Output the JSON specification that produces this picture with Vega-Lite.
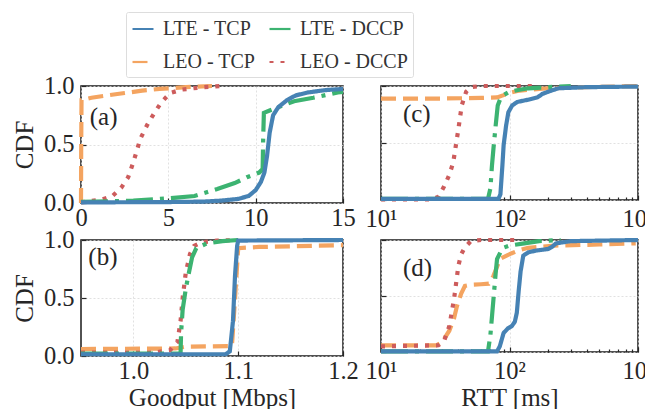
{
  "$schema": "https://vega.github.io/schema/vega-lite/v6.json",
  "padding": {"left": 11, "top": 11, "right": 0, "bottom": 0},
  "bounds": "flush",
  "columns": 2,
  "spacing": {"row": 37, "column": 38},
  "datasets": {
    "curves": [
      {"p":"a","s":"LEO - TCP","x":0,"y":0},{"p":"a","s":"LEO - TCP","x":0.01,"y":0.45},{"p":"a","s":"LEO - TCP","x":0.03,"y":0.88},{"p":"a","s":"LEO - TCP","x":0.6,"y":0.9},{"p":"a","s":"LEO - TCP","x":1.5,"y":0.92},{"p":"a","s":"LEO - TCP","x":2.5,"y":0.94},{"p":"a","s":"LEO - TCP","x":3.5,"y":0.96},{"p":"a","s":"LEO - TCP","x":4.5,"y":0.975},{"p":"a","s":"LEO - TCP","x":6,"y":0.99},{"p":"a","s":"LEO - TCP","x":7.5,"y":1.0},
      {"p":"a","s":"LEO - DCCP","x":0,"y":0.005},{"p":"a","s":"LEO - DCCP","x":0.5,"y":0.015},{"p":"a","s":"LEO - DCCP","x":1.2,"y":0.03},{"p":"a","s":"LEO - DCCP","x":1.8,"y":0.06},{"p":"a","s":"LEO - DCCP","x":2.3,"y":0.13},{"p":"a","s":"LEO - DCCP","x":2.7,"y":0.22},{"p":"a","s":"LEO - DCCP","x":3.0,"y":0.35},{"p":"a","s":"LEO - DCCP","x":3.4,"y":0.55},{"p":"a","s":"LEO - DCCP","x":3.8,"y":0.67},{"p":"a","s":"LEO - DCCP","x":4.2,"y":0.77},{"p":"a","s":"LEO - DCCP","x":4.6,"y":0.86},{"p":"a","s":"LEO - DCCP","x":5.1,"y":0.94},{"p":"a","s":"LEO - DCCP","x":5.8,"y":0.97},{"p":"a","s":"LEO - DCCP","x":7.0,"y":0.99},{"p":"a","s":"LEO - DCCP","x":8.0,"y":1.0},
      {"p":"a","s":"LTE - DCCP","x":0,"y":0.01},{"p":"a","s":"LTE - DCCP","x":3,"y":0.02},{"p":"a","s":"LTE - DCCP","x":5,"y":0.04},{"p":"a","s":"LTE - DCCP","x":6.5,"y":0.06},{"p":"a","s":"LTE - DCCP","x":7.8,"y":0.12},{"p":"a","s":"LTE - DCCP","x":8.8,"y":0.17},{"p":"a","s":"LTE - DCCP","x":9.5,"y":0.22},{"p":"a","s":"LTE - DCCP","x":10.2,"y":0.26},{"p":"a","s":"LTE - DCCP","x":10.4,"y":0.29},{"p":"a","s":"LTE - DCCP","x":10.43,"y":0.55},{"p":"a","s":"LTE - DCCP","x":10.47,"y":0.77},{"p":"a","s":"LTE - DCCP","x":10.8,"y":0.79},{"p":"a","s":"LTE - DCCP","x":11.5,"y":0.83},{"p":"a","s":"LTE - DCCP","x":12.2,"y":0.87},{"p":"a","s":"LTE - DCCP","x":13.3,"y":0.9},{"p":"a","s":"LTE - DCCP","x":14.7,"y":0.945},{"p":"a","s":"LTE - DCCP","x":15,"y":0.95},
      {"p":"a","s":"LTE - TCP","x":0,"y":0.005},{"p":"a","s":"LTE - TCP","x":5,"y":0.008},{"p":"a","s":"LTE - TCP","x":7,"y":0.012},{"p":"a","s":"LTE - TCP","x":8,"y":0.02},{"p":"a","s":"LTE - TCP","x":9,"y":0.035},{"p":"a","s":"LTE - TCP","x":9.6,"y":0.06},{"p":"a","s":"LTE - TCP","x":10,"y":0.11},{"p":"a","s":"LTE - TCP","x":10.3,"y":0.18},{"p":"a","s":"LTE - TCP","x":10.5,"y":0.26},{"p":"a","s":"LTE - TCP","x":10.65,"y":0.4},{"p":"a","s":"LTE - TCP","x":10.8,"y":0.6},{"p":"a","s":"LTE - TCP","x":11,"y":0.75},{"p":"a","s":"LTE - TCP","x":11.3,"y":0.82},{"p":"a","s":"LTE - TCP","x":11.8,"y":0.88},{"p":"a","s":"LTE - TCP","x":12.3,"y":0.92},{"p":"a","s":"LTE - TCP","x":13,"y":0.945},{"p":"a","s":"LTE - TCP","x":14,"y":0.965},{"p":"a","s":"LTE - TCP","x":15,"y":0.975},

      {"p":"b","s":"LEO - TCP","x":0.95,"y":0.06},{"p":"b","s":"LEO - TCP","x":1.04,"y":0.065},{"p":"b","s":"LEO - TCP","x":1.05,"y":0.08},{"p":"b","s":"LEO - TCP","x":1.094,"y":0.085},{"p":"b","s":"LEO - TCP","x":1.097,"y":0.5},{"p":"b","s":"LEO - TCP","x":1.1,"y":0.93},{"p":"b","s":"LEO - TCP","x":1.12,"y":0.94},{"p":"b","s":"LEO - TCP","x":1.2,"y":0.955},
      {"p":"b","s":"LEO - DCCP","x":0.95,"y":0.03},{"p":"b","s":"LEO - DCCP","x":1.02,"y":0.03},{"p":"b","s":"LEO - DCCP","x":1.035,"y":0.05},{"p":"b","s":"LEO - DCCP","x":1.042,"y":0.12},{"p":"b","s":"LEO - DCCP","x":1.045,"y":0.3},{"p":"b","s":"LEO - DCCP","x":1.047,"y":0.5},{"p":"b","s":"LEO - DCCP","x":1.05,"y":0.72},{"p":"b","s":"LEO - DCCP","x":1.054,"y":0.88},{"p":"b","s":"LEO - DCCP","x":1.058,"y":0.95},{"p":"b","s":"LEO - DCCP","x":1.065,"y":0.98},{"p":"b","s":"LEO - DCCP","x":1.08,"y":0.995},{"p":"b","s":"LEO - DCCP","x":1.1,"y":1.0},
      {"p":"b","s":"LTE - DCCP","x":0.95,"y":0.02},{"p":"b","s":"LTE - DCCP","x":1.045,"y":0.02},{"p":"b","s":"LTE - DCCP","x":1.0455,"y":0.2},{"p":"b","s":"LTE - DCCP","x":1.047,"y":0.4},{"p":"b","s":"LTE - DCCP","x":1.05,"y":0.58},{"p":"b","s":"LTE - DCCP","x":1.053,"y":0.72},{"p":"b","s":"LTE - DCCP","x":1.056,"y":0.85},{"p":"b","s":"LTE - DCCP","x":1.06,"y":0.93},{"p":"b","s":"LTE - DCCP","x":1.07,"y":0.97},{"p":"b","s":"LTE - DCCP","x":1.085,"y":0.99},{"p":"b","s":"LTE - DCCP","x":1.1,"y":1.0},
      {"p":"b","s":"LTE - TCP","x":0.95,"y":0.015},{"p":"b","s":"LTE - TCP","x":1.088,"y":0.015},{"p":"b","s":"LTE - TCP","x":1.092,"y":0.04},{"p":"b","s":"LTE - TCP","x":1.095,"y":0.3},{"p":"b","s":"LTE - TCP","x":1.097,"y":0.7},{"p":"b","s":"LTE - TCP","x":1.099,"y":0.95},{"p":"b","s":"LTE - TCP","x":1.1,"y":0.995},{"p":"b","s":"LTE - TCP","x":1.2,"y":1.0},

      {"p":"c","s":"LEO - TCP","x":10,"y":0.89},{"p":"c","s":"LEO - TCP","x":30,"y":0.89},{"p":"c","s":"LEO - TCP","x":60,"y":0.895},{"p":"c","s":"LEO - TCP","x":80,"y":0.9},{"p":"c","s":"LEO - TCP","x":90,"y":0.92},{"p":"c","s":"LEO - TCP","x":100,"y":0.94},{"p":"c","s":"LEO - TCP","x":120,"y":0.96},{"p":"c","s":"LEO - TCP","x":150,"y":0.97},{"p":"c","s":"LEO - TCP","x":200,"y":0.98},{"p":"c","s":"LEO - TCP","x":400,"y":0.99},{"p":"c","s":"LEO - TCP","x":1000,"y":1.0},
      {"p":"c","s":"LEO - DCCP","x":10,"y":0.005},{"p":"c","s":"LEO - DCCP","x":25,"y":0.005},{"p":"c","s":"LEO - DCCP","x":28,"y":0.03},{"p":"c","s":"LEO - DCCP","x":31,"y":0.12},{"p":"c","s":"LEO - DCCP","x":34,"y":0.22},{"p":"c","s":"LEO - DCCP","x":36.5,"y":0.33},{"p":"c","s":"LEO - DCCP","x":38.5,"y":0.5},{"p":"c","s":"LEO - DCCP","x":40,"y":0.62},{"p":"c","s":"LEO - DCCP","x":42.5,"y":0.83},{"p":"c","s":"LEO - DCCP","x":46,"y":0.95},{"p":"c","s":"LEO - DCCP","x":50,"y":0.99},{"p":"c","s":"LEO - DCCP","x":60,"y":1.0},{"p":"c","s":"LEO - DCCP","x":150,"y":1.0},
      {"p":"c","s":"LTE - DCCP","x":10,"y":0.01},{"p":"c","s":"LTE - DCCP","x":68,"y":0.01},{"p":"c","s":"LTE - DCCP","x":71,"y":0.1},{"p":"c","s":"LTE - DCCP","x":73,"y":0.3},{"p":"c","s":"LTE - DCCP","x":75,"y":0.45},{"p":"c","s":"LTE - DCCP","x":78,"y":0.65},{"p":"c","s":"LTE - DCCP","x":81,"y":0.83},{"p":"c","s":"LTE - DCCP","x":85,"y":0.89},{"p":"c","s":"LTE - DCCP","x":90,"y":0.92},{"p":"c","s":"LTE - DCCP","x":100,"y":0.95},{"p":"c","s":"LTE - DCCP","x":117,"y":0.965},{"p":"c","s":"LTE - DCCP","x":140,"y":0.98},{"p":"c","s":"LTE - DCCP","x":200,"y":0.99},{"p":"c","s":"LTE - DCCP","x":300,"y":1.0},
      {"p":"c","s":"LTE - TCP","x":10,"y":0.01},{"p":"c","s":"LTE - TCP","x":82,"y":0.01},{"p":"c","s":"LTE - TCP","x":85,"y":0.05},{"p":"c","s":"LTE - TCP","x":88,"y":0.3},{"p":"c","s":"LTE - TCP","x":90,"y":0.48},{"p":"c","s":"LTE - TCP","x":94,"y":0.65},{"p":"c","s":"LTE - TCP","x":98,"y":0.77},{"p":"c","s":"LTE - TCP","x":105,"y":0.83},{"p":"c","s":"LTE - TCP","x":115,"y":0.86},{"p":"c","s":"LTE - TCP","x":140,"y":0.88},{"p":"c","s":"LTE - TCP","x":165,"y":0.9},{"p":"c","s":"LTE - TCP","x":180,"y":0.93},{"p":"c","s":"LTE - TCP","x":200,"y":0.95},{"p":"c","s":"LTE - TCP","x":240,"y":0.98},{"p":"c","s":"LTE - TCP","x":400,"y":0.99},{"p":"c","s":"LTE - TCP","x":1000,"y":0.995},

      {"p":"d","s":"LEO - TCP","x":10,"y":0.06},{"p":"d","s":"LEO - TCP","x":27,"y":0.06},{"p":"d","s":"LEO - TCP","x":30,"y":0.09},{"p":"d","s":"LEO - TCP","x":34,"y":0.19},{"p":"d","s":"LEO - TCP","x":37,"y":0.3},{"p":"d","s":"LEO - TCP","x":39,"y":0.41},{"p":"d","s":"LEO - TCP","x":42,"y":0.52},{"p":"d","s":"LEO - TCP","x":45,"y":0.59},{"p":"d","s":"LEO - TCP","x":50,"y":0.6},{"p":"d","s":"LEO - TCP","x":60,"y":0.605},{"p":"d","s":"LEO - TCP","x":69,"y":0.61},{"p":"d","s":"LEO - TCP","x":72,"y":0.64},{"p":"d","s":"LEO - TCP","x":75,"y":0.68},{"p":"d","s":"LEO - TCP","x":80,"y":0.76},{"p":"d","s":"LEO - TCP","x":84,"y":0.83},{"p":"d","s":"LEO - TCP","x":95,"y":0.86},{"p":"d","s":"LEO - TCP","x":103,"y":0.88},{"p":"d","s":"LEO - TCP","x":120,"y":0.91},{"p":"d","s":"LEO - TCP","x":140,"y":0.93},{"p":"d","s":"LEO - TCP","x":224,"y":0.95},{"p":"d","s":"LEO - TCP","x":500,"y":0.96},{"p":"d","s":"LEO - TCP","x":960,"y":0.97},
      {"p":"d","s":"LEO - DCCP","x":10,"y":0.05},{"p":"d","s":"LEO - DCCP","x":28,"y":0.06},{"p":"d","s":"LEO - DCCP","x":31,"y":0.1},{"p":"d","s":"LEO - DCCP","x":34,"y":0.23},{"p":"d","s":"LEO - DCCP","x":37,"y":0.47},{"p":"d","s":"LEO - DCCP","x":40,"y":0.77},{"p":"d","s":"LEO - DCCP","x":42,"y":0.87},{"p":"d","s":"LEO - DCCP","x":44.7,"y":0.93},{"p":"d","s":"LEO - DCCP","x":50,"y":0.99},{"p":"d","s":"LEO - DCCP","x":60,"y":1.0},{"p":"d","s":"LEO - DCCP","x":120,"y":1.0},
      {"p":"d","s":"LTE - DCCP","x":10,"y":0.005},{"p":"d","s":"LTE - DCCP","x":68,"y":0.005},{"p":"d","s":"LTE - DCCP","x":71,"y":0.15},{"p":"d","s":"LTE - DCCP","x":75,"y":0.47},{"p":"d","s":"LTE - DCCP","x":78,"y":0.7},{"p":"d","s":"LTE - DCCP","x":80,"y":0.83},{"p":"d","s":"LTE - DCCP","x":85,"y":0.89},{"p":"d","s":"LTE - DCCP","x":89,"y":0.93},{"p":"d","s":"LTE - DCCP","x":100,"y":0.95},{"p":"d","s":"LTE - DCCP","x":130,"y":0.97},{"p":"d","s":"LTE - DCCP","x":170,"y":0.99},{"p":"d","s":"LTE - DCCP","x":250,"y":1.0},
      {"p":"d","s":"LTE - TCP","x":10,"y":0.005},{"p":"d","s":"LTE - TCP","x":80,"y":0.005},{"p":"d","s":"LTE - TCP","x":84,"y":0.05},{"p":"d","s":"LTE - TCP","x":90,"y":0.17},{"p":"d","s":"LTE - TCP","x":97,"y":0.21},{"p":"d","s":"LTE - TCP","x":104,"y":0.23},{"p":"d","s":"LTE - TCP","x":110,"y":0.27},{"p":"d","s":"LTE - TCP","x":114,"y":0.35},{"p":"d","s":"LTE - TCP","x":118,"y":0.55},{"p":"d","s":"LTE - TCP","x":122,"y":0.72},{"p":"d","s":"LTE - TCP","x":128,"y":0.86},{"p":"d","s":"LTE - TCP","x":140,"y":0.89},{"p":"d","s":"LTE - TCP","x":160,"y":0.905},{"p":"d","s":"LTE - TCP","x":200,"y":0.92},{"p":"d","s":"LTE - TCP","x":215,"y":0.94},{"p":"d","s":"LTE - TCP","x":230,"y":0.97},{"p":"d","s":"LTE - TCP","x":300,"y":0.99},{"p":"d","s":"LTE - TCP","x":1000,"y":1.0}
    ]
  },
  "concat": [
    {
      "width": 262, "height": 117,
      "layer": [
        {
          "data": {"name": "curves"},
          "transform": [{"filter": "datum.p === 'a'"}],
          "mark": {"type": "line", "strokeWidth": 4.2, "strokeCap": "butt"},
          "encoding": {
            "x": {"field": "x", "type": "quantitative", "scale": {"domain": [0, 15], "nice": false, "zero": false}, "axis": {"values": [0, 5, 10, 15], "title": null}},
            "y": {"field": "y", "type": "quantitative", "scale": {"domain": [0, 1], "nice": false}, "axis": {"values": [0, 0.5, 1], "format": ".1f", "title": "CDF", "labelPadding": 12, "titlePadding": 6}},
            "color": {"field": "s", "type": "nominal", "scale": {"domain": ["LTE - TCP", "LEO - TCP", "LTE - DCCP", "LEO - DCCP"], "range": ["#4682B4", "#F4A460", "#3CB371", "#CD5C5C"]}, "legend": {"orient": "none", "legendX": 45, "legendY": -74, "columns": 2, "gridAlign": "each", "title": null, "symbolType": "stroke", "symbolSize": 441, "symbolStrokeWidth": 2.2, "labelFontSize": 20, "labelFont": "Liberation Serif", "labelColor": "#333333", "labelOffset": 8, "columnPadding": 9, "rowPadding": 11, "padding": 5, "strokeColor": "#dddddd", "fillColor": "#ffffff", "cornerRadius": 2, "encode": {"symbols": {"update": {"strokeDash": {"signal": "datum.value === 'LTE - DCCP' ? [13,3,2,3] : datum.value === 'LEO - TCP' ? [8,3] : datum.value === 'LEO - DCCP' ? [2,3.5] : [1,0]"}}}}}},
            "strokeDash": {"field": "s", "type": "nominal", "scale": {"domain": ["LTE - TCP", "LEO - TCP", "LTE - DCCP", "LEO - DCCP"], "range": [[1, 0], [15, 7], [27, 7, 4, 7], [4, 7]]}}
          }
        },
        {
          "data": {"values": [{"t": "(a)"}]},
          "mark": {"type": "text", "align": "left", "baseline": "middle", "fontSize": 25, "font": "Liberation Serif", "color": "#262626"},
          "encoding": {
            "text": {"field": "t"},
            "x": {"datum": 0.5, "type": "quantitative", "axis": null},
            "y": {"datum": 0.735, "type": "quantitative", "axis": null}
          }
        }
      ],
      "resolve": {"axis": {"x": "independent", "y": "independent"}}
    },
    {
      "width": 257, "height": 114,
      "layer": [
        {
          "data": {"name": "curves"},
          "transform": [{"filter": "datum.p === 'c'"}],
          "mark": {"type": "line", "strokeWidth": 4.2, "strokeCap": "butt"},
          "encoding": {
            "x": {"field": "x", "type": "quantitative", "scale": {"type": "log", "domain": [10, 1000], "nice": false}, "axis": {"values": [10, 100, 1000], "orient": "bottom", "title": null, "labelPadding": 12, "labelExpr": "datum.value === 10 ? '10¹' : datum.value === 100 ? '10²' : '10³'"}},
            "y": {"field": "y", "type": "quantitative", "scale": {"domain": [0, 1], "nice": false}, "axis": {"values": [0, 0.5, 1], "labels": false, "title": null, "orient": "left"}},
            "color": {"field": "s", "type": "nominal", "scale": {"domain": ["LTE - TCP", "LEO - TCP", "LTE - DCCP", "LEO - DCCP"], "range": ["#4682B4", "#F4A460", "#3CB371", "#CD5C5C"]}, "legend": {"orient": "none", "legendX": 45, "legendY": -74, "columns": 2, "gridAlign": "each", "title": null, "symbolType": "stroke", "symbolSize": 441, "symbolStrokeWidth": 2.2, "labelFontSize": 20, "labelFont": "Liberation Serif", "labelColor": "#333333", "labelOffset": 8, "columnPadding": 9, "rowPadding": 11, "padding": 5, "strokeColor": "#dddddd", "fillColor": "#ffffff", "cornerRadius": 2, "encode": {"symbols": {"update": {"strokeDash": {"signal": "datum.value === 'LTE - DCCP' ? [13,3,2,3] : datum.value === 'LEO - TCP' ? [8,3] : datum.value === 'LEO - DCCP' ? [2,3.5] : [1,0]"}}}}}},
            "strokeDash": {"field": "s", "type": "nominal", "scale": {"domain": ["LTE - TCP", "LEO - TCP", "LTE - DCCP", "LEO - DCCP"], "range": [[1, 0], [15, 7], [27, 7, 4, 7], [4, 7]]}}
          }
        },
        {
          "data": {"values": [{"t": "(c)"}]},
          "mark": {"type": "text", "align": "left", "baseline": "middle", "fontSize": 25, "font": "Liberation Serif", "color": "#262626"},
          "encoding": {
            "text": {"field": "t"},
            "x": {"datum": 14.8, "type": "quantitative", "scale": {"type": "log", "domain": [10, 1000], "nice": false}, "axis": {"values": [20, 30, 40, 50, 60, 70, 80, 90, 200, 300, 400, 500, 600, 700, 800, 900], "orient": "bottom", "labels": false, "grid": false, "tickSize": -3, "title": null}},
            "y": {"datum": 0.755, "type": "quantitative", "axis": null}
          }
        }
      ],
      "resolve": {"axis": {"x": "independent", "y": "independent"}}
    },
    {
      "width": 262, "height": 116,
      "layer": [
        {
          "data": {"name": "curves"},
          "transform": [{"filter": "datum.p === 'b'"}],
          "mark": {"type": "line", "strokeWidth": 4.2, "strokeCap": "butt"},
          "encoding": {
            "x": {"field": "x", "type": "quantitative", "scale": {"domain": [0.95, 1.2], "nice": false, "zero": false}, "axis": {"values": [1.0, 1.1, 1.2], "format": ".1f", "title": "Goodput [Mbps]"}},
            "y": {"field": "y", "type": "quantitative", "scale": {"domain": [0, 1], "nice": false}, "axis": {"values": [0, 0.5, 1], "format": ".1f", "title": "CDF", "labelPadding": 12, "titlePadding": 6}},
            "color": {"field": "s", "type": "nominal", "scale": {"domain": ["LTE - TCP", "LEO - TCP", "LTE - DCCP", "LEO - DCCP"], "range": ["#4682B4", "#F4A460", "#3CB371", "#CD5C5C"]}, "legend": {"orient": "none", "legendX": 45, "legendY": -74, "columns": 2, "gridAlign": "each", "title": null, "symbolType": "stroke", "symbolSize": 441, "symbolStrokeWidth": 2.2, "labelFontSize": 20, "labelFont": "Liberation Serif", "labelColor": "#333333", "labelOffset": 8, "columnPadding": 9, "rowPadding": 11, "padding": 5, "strokeColor": "#dddddd", "fillColor": "#ffffff", "cornerRadius": 2, "encode": {"symbols": {"update": {"strokeDash": {"signal": "datum.value === 'LTE - DCCP' ? [13,3,2,3] : datum.value === 'LEO - TCP' ? [8,3] : datum.value === 'LEO - DCCP' ? [2,3.5] : [1,0]"}}}}}},
            "strokeDash": {"field": "s", "type": "nominal", "scale": {"domain": ["LTE - TCP", "LEO - TCP", "LTE - DCCP", "LEO - DCCP"], "range": [[1, 0], [15, 7], [27, 7, 4, 7], [4, 7]]}}
          }
        },
        {
          "data": {"values": [{"t": "(b)"}]},
          "mark": {"type": "text", "align": "left", "baseline": "middle", "fontSize": 25, "font": "Liberation Serif", "color": "#262626"},
          "encoding": {
            "text": {"field": "t"},
            "x": {"datum": 0.957, "type": "quantitative", "axis": null},
            "y": {"datum": 0.85, "type": "quantitative", "axis": null}
          }
        }
      ],
      "resolve": {"axis": {"x": "independent", "y": "independent"}}
    },
    {
      "width": 257, "height": 112,
      "layer": [
        {
          "data": {"name": "curves"},
          "transform": [{"filter": "datum.p === 'd'"}],
          "mark": {"type": "line", "strokeWidth": 4.2, "strokeCap": "butt"},
          "encoding": {
            "x": {"field": "x", "type": "quantitative", "scale": {"type": "log", "domain": [10, 1000], "nice": false}, "axis": {"values": [10, 100, 1000], "orient": "bottom", "title": "RTT [ms]", "labelPadding": 12, "labelExpr": "datum.value === 10 ? '10¹' : datum.value === 100 ? '10²' : '10³'"}},
            "y": {"field": "y", "type": "quantitative", "scale": {"domain": [0, 1], "nice": false}, "axis": {"values": [0, 0.5, 1], "labels": false, "title": null, "orient": "left"}},
            "color": {"field": "s", "type": "nominal", "scale": {"domain": ["LTE - TCP", "LEO - TCP", "LTE - DCCP", "LEO - DCCP"], "range": ["#4682B4", "#F4A460", "#3CB371", "#CD5C5C"]}, "legend": {"orient": "none", "legendX": 45, "legendY": -74, "columns": 2, "gridAlign": "each", "title": null, "symbolType": "stroke", "symbolSize": 441, "symbolStrokeWidth": 2.2, "labelFontSize": 20, "labelFont": "Liberation Serif", "labelColor": "#333333", "labelOffset": 8, "columnPadding": 9, "rowPadding": 11, "padding": 5, "strokeColor": "#dddddd", "fillColor": "#ffffff", "cornerRadius": 2, "encode": {"symbols": {"update": {"strokeDash": {"signal": "datum.value === 'LTE - DCCP' ? [13,3,2,3] : datum.value === 'LEO - TCP' ? [8,3] : datum.value === 'LEO - DCCP' ? [2,3.5] : [1,0]"}}}}}},
            "strokeDash": {"field": "s", "type": "nominal", "scale": {"domain": ["LTE - TCP", "LEO - TCP", "LTE - DCCP", "LEO - DCCP"], "range": [[1, 0], [15, 7], [27, 7, 4, 7], [4, 7]]}}
          }
        },
        {
          "data": {"values": [{"t": "(d)"}]},
          "mark": {"type": "text", "align": "left", "baseline": "middle", "fontSize": 25, "font": "Liberation Serif", "color": "#262626"},
          "encoding": {
            "text": {"field": "t"},
            "x": {"datum": 14.8, "type": "quantitative", "scale": {"type": "log", "domain": [10, 1000], "nice": false}, "axis": {"values": [20, 30, 40, 50, 60, 70, 80, 90, 200, 300, 400, 500, 600, 700, 800, 900], "orient": "bottom", "labels": false, "grid": false, "tickSize": -3, "title": null}},
            "y": {"datum": 0.75, "type": "quantitative", "axis": null}
          }
        }
      ],
      "resolve": {"axis": {"x": "independent", "y": "independent"}}
    }
  ],
  "config": {
    "font": "Liberation Serif",
    "view": {"stroke": "#1a1a1a", "strokeWidth": 1.5},
    "axis": {"domain": false, "labelFont": "Liberation Serif", "titleFont": "Liberation Serif", "labelFontSize": 24.5, "titleFontSize": 25, "titleFontWeight": "normal", "labelColor": "#262626", "titleColor": "#262626", "tickColor": "#262626", "tickSize": -5, "tickWidth": 1.2, "grid": true, "gridColor": "#d9d9d9", "gridDash": [2, 2], "gridWidth": 0.8, "labelFlush": false, "labelOverlap": false, "labelPadding": 8, "titlePadding": 3},
    "legend": {"labelFont": "Liberation Serif"},
    "text": {"font": "Liberation Serif"}
  }
}
